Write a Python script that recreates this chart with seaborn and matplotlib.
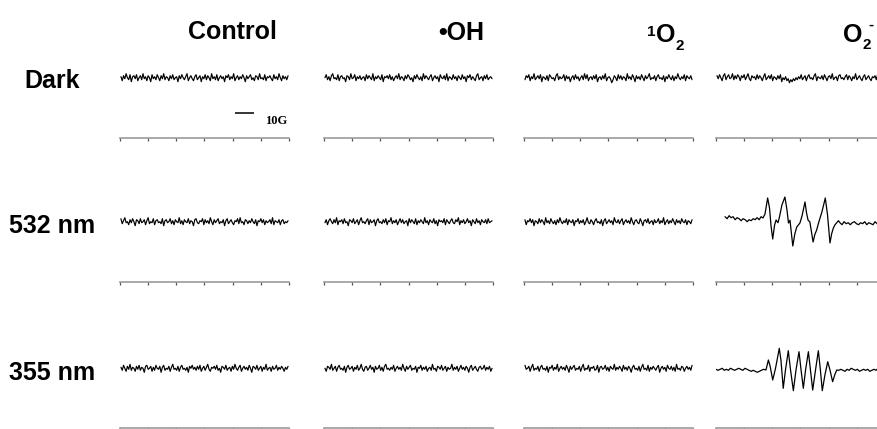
import numpy as np
import pandas as pd
import matplotlib
matplotlib.use("Agg")
import matplotlib.pyplot as plt
import seaborn as sns

# ---------------------------------------------------------------------------
# EPR spin-trapping spectra: rows = illumination, columns = ROS probe
# intensities in arbitrary units, field in gauss (0-90 G sweep window)
# ---------------------------------------------------------------------------
row_labels = ["Dark", "532 nm", "355 nm"]
field_ticks = [0, 15, 30, 45, 60, 75, 90]
scale_bar_gauss = 10

# noise-only spectra (sampled evenly across the sweep)
dark_control = [1,-3,2,-1,4,0,-2,3,-4,1, 2,-1,3,-3,0,2,-2,4,-1,1, -3,2,0,-4,3,-1,1,-2,3,0,
                -3,2,-1,4,-2,1,0,-3,2,-1, 3,-2,0,1,-4,2,-1,3,0,-2, 1,4,-3,0,2,-1,-3,1,3,-2,
                0,2,-4,1,-1,3,-2,2,0,-3, 4,-1,1,-2,3,-3,0,2,-1,1, -4,2,0,3,-2,1,-1,4,-3,0,
                2,-2,1,-1,3,0,-4,2,-1,1, 3,-2,0,-3,2,1,-2,4,-1,0, -2,3,-3,1,0,2,-1,-3,3,-1,
                1,-2,4,0,-3,2,-1,1,-2,2]
dark_oh = [0,3,-2,1,-3,2,4,-1,0,-2, 3,-3,1,2,-1,0,-4,2,1,-2, 4,-1,0,3,-3,1,-1,2,-2,0,
           1,-3,3,-1,2,0,-2,4,-3,1, -1,2,0,-2,3,-4,1,0,2,-1, 3,-2,1,-3,0,2,-1,4,-2,1,
           0,-3,2,-1,3,1,-2,0,-4,2, -1,3,0,-2,1,-3,4,-1,2,0, -2,1,3,-3,0,2,-1,1,-4,3,
           0,-1,2,-2,4,-3,1,0,-2,3, -1,1,-3,2,0,-2,3,-1,1,-4, 2,0,3,-2,1,-1,-3,2,4,-2,
           0,1,-3,2,-1,3,-2,0,1,-1]
dark_singlet = [-2,2,0,3,-3,1,-1,4,-2,0, 2,-1,3,-4,1,0,-2,2,-3,3, 1,-1,0,-3,2,4,-2,1,-1,0,
                3,-3,2,-1,1,-4,0,2,-2,3, -1,1,-3,0,2,-2,4,-1,3,-3, 0,1,-2,2,-1,3,-4,0,1,-2,
                2,-1,4,-3,0,1,-1,-5,-2,2, 0,-3,3,-1,2,-2,1,0,-3,4, -1,1,-2,3,0,-4,2,-1,1,-2,
                3,0,-3,2,-1,1,4,-2,0,-1, 2,-3,1,3,-1,0,-2,2,-4,1, -1,3,0,-2,2,-3,1,-1,4,0,
                -2,1,-1,3,-3,2,0,-1,2,-2]
dark_superoxide = [2,-1,3,0,-3,2,4,-2,1,3, -1,0,4,-2,2,-1,3,1,-3,2, 0,3,-2,1,4,-1,-3,2,0,1,
                   -2,3,-1,2,0,-3,1,4,-2,0, 2,-1,3,-3,1,0,-2,2,-1,3, -4,0,-2,1,-3,-1,-5,-2,-4,-1,
                   -3,0,-2,1,-1,3,-2,0,2,-3, 1,3,-1,0,-2,2,4,-3,1,0, -1,2,-2,3,0,-3,1,2,-1,4,
                   -2,0,1,-3,2,3,-1,0,-2,1, 3,-2,2,0,-3,1,-1,4,-2,0, 2,-1,-3,1,3,-2,0,2,-1,-3,
                   1,0,2,-2,3,-1,1,-3,2,0]
vis_control = [3,-2,1,4,-1,0,-3,2,-1,3, 0,-4,2,1,-2,3,-1,0,2,-3, 1,4,-2,0,-1,3,-3,1,2,-1,
               0,-2,3,-4,1,2,-1,0,3,-2, 1,-3,2,0,-1,4,-2,1,-3,2, 0,-1,3,-2,1,0,-4,2,3,-1,
               -2,1,0,3,-3,2,-1,1,-2,4, 0,-3,2,-1,1,3,-2,0,-1,2, -4,1,3,-2,0,2,-1,-3,1,0,
               3,-2,4,-1,0,-3,2,1,-2,1, -1,3,0,-2,2,-4,1,0,3,-1, 2,-3,1,-1,0,2,-2,4,-3,1,
               0,-1,2,-3,1,2,-2,0,-1,1]
vis_oh = [-1,2,-3,1,3,0,-2,2,-1,4, -3,1,0,2,-2,3,-1,0,-4,2, 1,-1,3,-2,0,2,-3,1,4,-1,
          0,-2,1,3,-3,2,-1,0,2,-4, 1,3,-1,0,-2,2,-1,3,-3,1, 0,4,-2,1,-1,2,-3,0,3,-1,
          2,-2,0,1,-4,3,-1,2,0,-2, 3,-3,1,-1,2,0,-2,4,-1,1, -3,2,0,-1,3,-2,1,-4,2,0,
          1,-1,3,-3,2,0,-2,1,3,-1, -2,2,0,4,-3,1,-1,2,-2,0, 3,-1,1,-4,2,0,-2,3,-1,1,
          -3,2,0,-1,2,-2,3,-1,0,1]
vis_singlet = [2,-3,1,0,3,-1,2,-4,1,0, -2,3,-1,2,0,-3,4,-1,1,-2, 3,0,-2,1,-3,2,-1,4,0,-2,
               1,-1,3,-3,2,0,-1,2,-4,1, 0,3,-2,1,-1,2,-3,0,4,-1, -2,2,0,-3,1,3,-1,0,-2,2,
               -4,1,3,-2,0,2,-1,1,-3,4, 0,-1,2,-2,1,3,-3,0,2,-1, 1,-2,4,0,-3,1,2,-1,-2,3,
               0,-4,1,2,-1,3,-2,0,1,-3, 2,-1,0,3,-2,1,-1,4,-3,0, 2,-2,1,-1,3,0,-3,2,-1,1,
               -2,3,0,-1,2,-3,1,0,-2,2]
uv_control = [1,-2,3,0,-3,2,-1,4,-2,1, 0,-3,2,-1,3,-2,1,0,-4,2, 3,-1,0,2,-3,1,-2,3,0,-1,
              2,-4,1,3,-2,0,-1,2,-3,1, 4,-1,0,-2,2,-3,1,3,-1,0, -2,1,-4,2,0,3,-1,1,-2,2,
              -1,3,-3,0,2,-2,1,4,-1,-3, 1,0,2,-1,3,-2,0,-4,2,1, -1,3,-2,0,1,-3,2,-1,4,0,
              -2,1,3,-3,0,2,-1,1,-2,3, 0,-4,2,1,-1,3,-2,0,2,-3, 1,-1,4,-2,0,1,-3,2,-1,0,
              3,-2,1,-1,2,0,-3,1,-1,2]
uv_oh = [0,-3,2,1,-1,4,-2,0,2,-3, 1,3,-1,0,-2,2,-4,1,3,-1, 0,2,-3,1,-1,3,-2,0,4,-1,
         -3,1,2,-2,0,3,-1,1,-4,2, -1,0,3,-2,1,-3,2,4,-1,0, -2,1,-1,3,-3,0,2,-1,1,-2,
         4,0,-3,2,-1,1,3,-2,0,-1, 2,-4,1,0,3,-2,1,-1,2,-3, 0,1,-2,4,-1,0,-3,2,1,-1,
         3,-2,0,2,-3,1,-1,0,4,-2, 1,-1,2,-3,0,3,-1,1,-2,2, 0,-4,1,3,-2,0,2,-1,-3,1,
         2,-1,0,3,-2,1,-1,2,-3,0]
uv_singlet = [3,-1,0,2,-3,1,4,-2,0,-1, 2,-3,1,3,-1,0,-2,2,-4,1, 0,3,-2,1,-1,4,-3,0,2,-1,
              1,-2,3,0,-4,2,-1,1,3,-2, 0,-1,2,-3,1,4,-2,0,-1,3, -3,1,0,2,-2,-1,3,-4,1,2,
              -1,0,3,-2,1,-3,2,0,-1,4, -2,1,-1,2,0,-3,3,-1,1,-2, 2,0,-4,1,3,-1,0,-2,2,-3,
              1,4,-1,0,-2,3,-3,1,-1,2, 0,-2,1,3,-4,0,2,-1,1,-3, 3,0,-1,2,-2,1,-3,4,-1,0,
              -2,2,1,-3,0,2,-1,1,-2,3]

# DMPO-OOH adduct under 532 nm (field, intensity)
vis_superoxide_field = [4.8, 5.9, 7.0, 8.0, 9.1, 10.2, 11.2, 12.3, 13.4, 14.4, 15.5, 16.6, 17.6,
                        18.7, 19.8, 20.8, 21.9, 23.0, 24.0, 25.0, 26.1, 27.5, 28.5, 29.3, 30.2,
                        31.2, 32.0, 33.0, 33.8, 35.1, 36.7, 37.8, 38.6, 39.4, 40.9, 42.0, 43.0,
                        44.7, 45.8, 47.4, 48.2, 49.0, 50.0, 51.7, 52.6, 53.6, 54.5, 55.4, 56.4,
                        58.2, 59.4, 60.7, 61.6, 62.5, 63.4, 64.3, 65.2, 66.0, 67.1, 68.2, 69.3,
                        70.4, 71.5, 72.6, 73.7, 74.8, 75.9, 77.0, 78.1, 79.2, 80.3, 81.4, 82.5,
                        83.6, 84.7, 85.8, 86.9, 88.0, 89.1]
vis_superoxide = [5, 3, 6, 4, 5, 2, 4, 3, 1, 3, 2, 0, 2, 1, 3, 2, 4, 2, 5, 3.7, 7.7, 23.7, 13.7,
                  -4, -17.3, -3.3, 1.7, -1, 4.7, 16.7, 24.7, 11.7, -1.3, 1.5, -24.3, -12, -5.3,
                  -1.3, 5.7, 19.7, 9, 1.7, -0.3, -20.3, -13, -8.3, -2, 3.7, 9.7, 23.7, 6.7,
                  -21.3, -12, -6.3, -3, -1, 1, -1, -3, 0, -2, -1, -3, -1, 0, -2, -3, -1, -2,
                  0, -3, -1, -2, -3, 0, -2, -1, -3, -1]

# DMPO-OOH adduct under 355 nm (field, intensity)
uv_superoxide_field = [0.0, 1.1, 2.2, 3.3, 4.4, 5.5, 6.6, 7.7, 8.8, 9.9, 11.0, 12.1, 13.2, 14.3,
                       15.4, 16.5, 17.6, 18.7, 19.8, 20.9, 22.0, 23.1, 24.2, 25.3, 26.6, 27.9,
                       28.8, 30.2, 31.7, 33.7, 34.6, 35.8, 37.0, 38.5, 39.7, 41.2, 42.6, 44.2,
                       45.3, 46.5, 47.7, 49.2, 50.3, 51.5, 53.0, 54.5, 55.6, 56.6, 58.0, 59.5,
                       60.7, 62.1, 63.4, 64.3, 65.4, 66.5, 67.6, 68.7, 69.8, 70.9, 72.0, 73.1,
                       74.2, 75.3, 76.4, 77.5, 78.6, 79.7, 80.8, 81.9, 83.0, 84.1, 85.2, 86.3,
                       87.4, 88.5, 89.6]
uv_superoxide = [-1, -2, -1, 0, -2, -1, -2, 0, -1, -2, -1, 0, -1, -2, 0, -1, -2, -3, -2, -3, -4,
                 -3, -2, -1, -1.7, 8.3, 2.3, -11.7, 0, 20, 8, -20, -1.7, 17.6, -1.7, -22.4, -1.7,
                 16.6, -1.7, -20, -1.7, 16.6, -1.7, -21.7, -1.7, 17.6, -1.7, -22.4, -6.7, 6.6,
                 -1.7, -13.4, -5.7, -1.7, -2, -1, -2, -3, -1, -2, 0, -1, -2, -1, -3, -2, -1, -2,
                 -1, -3, -2, -1, -2, 0, -2, -1, -2]

noise_rows = [
    [dark_control, dark_oh, dark_singlet, dark_superoxide],
    [vis_control, vis_oh, vis_singlet, None],
    [uv_control, uv_oh, uv_singlet, None],
]

# ---------------------------------------------------------------------------
# figure layout (pixel based)
# ---------------------------------------------------------------------------
sns.set_style("white")
plt.rcParams["font.family"] = ["Liberation Sans", "DejaVu Sans"]
plt.rcParams["text.color"] = "black"

W, H = 878, 429
fig = plt.figure(figsize=(W / 100, H / 100), dpi=100)

panel_left = [120, 324, 524, 716]
panel_w = 169
axis_y = [137.7, 281.7, 428.3]
panel_h = 90
y_lo, y_hi = -60, 30


def build_frame(field, values):
    return pd.DataFrame({"field": np.asarray(field, float), "signal": np.asarray(values, float)})


axes = {}
for r in range(3):
    for c in range(4):
        ax = fig.add_axes([panel_left[c] / W, (H - axis_y[r]) / H, panel_w / W, panel_h / H])
        ax.set_facecolor("none")
        axes[(r, c)] = ax

        noise = noise_rows[r][c]
        if noise is not None:
            field = np.linspace(0.5, 89.5, len(noise))
            df = build_frame(field, noise)
            lw = 0.85
        elif r == 1:
            df = build_frame(vis_superoxide_field, vis_superoxide)
            lw = 0.9
        else:
            df = build_frame(uv_superoxide_field, uv_superoxide)
            lw = 0.9

        sns.lineplot(data=df, x="field", y="signal", ax=ax, color="black",
                     linewidth=lw, estimator=None, sort=False, legend=False)

        ax.set_xlim(0, 90)
        ax.set_ylim(y_lo, y_hi)
        ax.set_xticks(field_ticks)
        ax.set_yticks([])
        ax.set_xticklabels([])
        ax.set_xlabel("")
        ax.set_ylabel("")
        for s in ["top", "left", "right"]:
            ax.spines[s].set_visible(False)
        ax.spines["bottom"].set_color("#9b9b9b")
        ax.spines["bottom"].set_linewidth(1.2)
        ax.tick_params(axis="x", direction="out", length=2.5, width=0.9,
                       color="#555555", bottom=True)

# scale bar in the first panel
ax0 = axes[(0, 0)]
bar_start = 61.2
ax0.plot([bar_start, bar_start + scale_bar_gauss], [-35.3, -35.3], color="black",
         linewidth=1.1, solid_capstyle="butt")
ax0.text(77.5, -46.5, f"{scale_bar_gauss}G", fontsize=9, fontweight="bold",
         family=["Liberation Serif", "DejaVu Serif"], ha="left", va="baseline",
         clip_on=False)


def ftext(x, y, s, size, **kw):
    fig.text(x / W, 1 - y / H, s, fontsize=size, fontweight="bold",
             va="baseline", color="black", **kw)


# column titles
ftext(277, 39, "Control", 18, ha="right")
ftext(484, 40, "\u2022OH", 18, ha="right")
# singlet oxygen: superscript 1, O, subscript 2
ftext(647, 36, "1", 11, ha="left")
ftext(656, 42, "O", 18, ha="left")
ftext(676, 50, "2", 11, ha="left")
# superoxide: O, subscript 2, superscript minus
ftext(843, 42, "O", 18, ha="left")
ftext(863, 49, "2", 11, ha="left")
ftext(868, 29, "-", 11, ha="left")

# row labels
row_base = [88, 233, 380]
for r, lab in enumerate(row_labels):
    ftext(52, row_base[r], lab, 18, ha="center")

fig.savefig("out.png", dpi=100)
